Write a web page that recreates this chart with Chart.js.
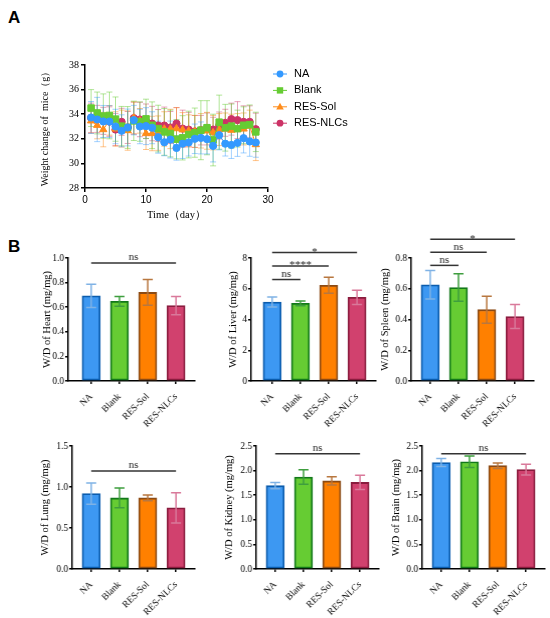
<!DOCTYPE html>
<html><head><meta charset="utf-8">
<script src="https://cdn.jsdelivr.net/npm/chart.js@4"></script>
<style>
html,body{margin:0;padding:0;background:#fff;}
body{width:550px;height:618px;position:relative;overflow:hidden;}
canvas{position:absolute;}
.lbl{position:absolute;font:bold 17px "Liberation Sans",Arial,sans-serif;color:#000;}
</style></head><body>
<div class="lbl" style="left:8px;top:8px">A</div>
<div class="lbl" style="left:8px;top:237px">B</div>
<script>
const serif = '"Liberation Serif","Times New Roman",serif';
const sans = '"Liberation Sans",Arial,sans-serif';
Chart.defaults.font.family = serif;
Chart.defaults.color = '#000';

// ---------- Panel A data ----------
const days = [1,2,3,4,5,6,7,8,9,10,11,12,13,14,15,16,17,18,19,20,21,22,23,24,25,26,27,28];
const lineGroups = ['NA','Blank','RES-Sol','RES-NLCs'];
const naMean = [33.73,33.57,33.41,33.40,33.00,32.65,32.92,33.52,33.00,33.03,32.90,32.13,31.72,31.94,31.26,31.60,31.70,32.00,32.07,31.97,31.42,32.30,31.60,31.50,31.67,32.05,31.78,31.70];
const naSD = [1.3,1.8,1.3,1.3,1.4,1.3,1.5,1.2,1.4,1.5,1.3,1.3,1.1,1.5,1.0,1.2,1.1,1.2,1.3,1.2,1.3,1.2,1.0,1.1,1.1,1.2,1.2,1.2];
const blankMean = [34.50,34.10,33.85,33.90,33.60,33.03,32.92,33.46,33.40,33.62,33.10,32.83,32.56,32.43,31.97,32.08,32.35,32.50,32.70,32.90,31.90,33.35,32.90,33.03,32.83,33.10,33.15,32.56];
const blankSD = [1.5,1.7,1.8,1.9,1.8,1.6,1.7,1.6,1.6,1.6,1.9,1.9,1.9,1.9,1.6,1.8,1.9,2.0,2.4,2.2,2.1,2.2,1.9,1.8,1.5,1.5,1.6,1.6];
const solMean = [33.46,33.10,32.75,33.50,32.80,32.83,32.67,33.70,33.46,32.43,32.43,32.46,32.80,32.80,32.83,32.73,32.65,32.60,32.65,32.65,32.50,32.75,32.80,32.70,32.75,32.80,33.03,31.53];
const solSD = [1.0,1.1,1.4,1.2,1.4,1.5,1.6,1.3,1.0,1.3,1.4,1.4,1.4,1.6,1.7,1.4,1.3,1.3,1.4,1.5,1.4,1.3,1.3,1.3,1.3,1.3,1.3,1.3];
const nlcMean = [33.70,33.62,33.46,33.40,32.75,33.38,32.92,33.68,33.57,33.43,33.24,33.08,33.08,32.92,33.24,32.83,32.75,32.60,32.70,32.80,32.75,33.08,33.30,33.60,33.52,33.38,33.38,32.78];
const nlcSD = [1.2,1.1,1.1,1.2,1.3,1.1,1.3,1.3,1.4,1.4,1.4,1.3,1.5,1.3,1.3,1.5,1.4,1.3,1.2,1.3,1.0,1.1,1.1,1.3,1.5,1.3,1.3,1.3];
const weightTicks = [28,30,32,34,36,38];
const dayTicks = [0,10,20,30];

// ---------- Panel B data ----------
const groups = ['NA','Blank','RES-Sol','RES-NLCs'];
const heartMean = [0.692,0.648,0.720,0.613];
const heartSD = [0.095,0.040,0.105,0.075];
const liverMean = [5.14,5.05,6.23,5.44];
const liverSD = [0.32,0.15,0.52,0.47];
const spleenMean = [0.626,0.608,0.464,0.419];
const spleenSD = [0.093,0.090,0.088,0.078];
const lungMean = [0.920,0.867,0.867,0.746];
const lungSD = [0.130,0.120,0.035,0.185];
const kidneyMean = [1.694,1.870,1.790,1.760];
const kidneySD = [0.065,0.145,0.085,0.145];
const brainMean = [2.165,2.180,2.100,2.020];
const brainSD = [0.080,0.115,0.055,0.110];
// significance: [group i, group j, bracket value, label]
const heartSig = [[0,3,0.96,'ns']];
const liverSig = [[0,1,6.6,'ns'],[0,2,7.48,'****'],[0,3,8.35,'*']];
const spleenSig = [[0,1,0.752,'ns'],[0,2,0.837,'ns'],[0,3,0.922,'*']];
const lungSig = [[0,3,1.196,'ns']];
const kidneySig = [[0,3,2.344,'ns']];
const brainSig = [[0,3,2.34,'ns']];

// ---------- styles ----------
const lineColors = ['#3399FF','#66CC33','#FF8C1A','#CC3366'];
const lineErrColors = ['rgba(51,153,255,0.45)','rgba(102,204,51,0.5)','rgba(255,140,26,0.5)','rgba(204,51,102,0.45)'];
const pointStyles = ['circle','rect','triangle','circle'];
const pointRadii = [3.6,4.6,4.2,3.6];
const barFill = ['#3D98F2','#66CC33','#FF8000','#D1416E'];
const barBorder = ['#0B5CAD','#12781A','#8B4A14','#8A1C3E'];
const barErr = ['#7FB2E5','#3E9E3E','#B8773F','#D9799A'];

function mkCanvas(left, top, w, h) {
  const c = document.createElement('canvas');
  c.width = w; c.height = h;
  c.style.left = left + 'px'; c.style.top = top + 'px';
  c.style.width = w + 'px'; c.style.height = h + 'px';
  document.body.appendChild(c);
  return c;
}

// ---------- Panel A ----------
(function(){
  const axisX = 85, topY = 65, botY = 188, plotW = 183;
  const d = 40, W = d + 10;
  const cLeft = axisX - W, cTop = 40, cW = 330, cH = 190;
  const padTop = topY - cTop, plotH = botY - topY, xH = cH - padTop - plotH;
  const cv = mkCanvas(cLeft, cTop, cW, cH);
  const means = [naMean, blankMean, solMean, nlcMean];
  const sds = [naSD, blankSD, solSD, nlcSD];
  const datasets = lineGroups.map((g,k)=>({
    label: g,
    data: days.map((dd,i)=>({x:dd, y:means[k][i]})),
    borderColor: lineColors[k], backgroundColor: lineColors[k],
    pointBorderColor: lineColors[k], pointBackgroundColor: lineColors[k],
    borderWidth: 1, pointStyle: pointStyles[k], pointRadius: pointRadii[k], pointBorderWidth: 1,
    tension: 0, fill: false
  }));
  const errPlugin = {id:'lerr', beforeDatasetsDraw(c){
    const ctx=c.ctx, xs=c.scales.x, ys=c.scales.y;
    ctx.save(); ctx.lineWidth=1;
    for (let k=3;k>=0;k--){
      ctx.strokeStyle = lineErrColors[k];
      days.forEach((dd,i)=>{
        const x=xs.getPixelForValue(dd), y1=ys.getPixelForValue(means[k][i]+sds[k][i]), y2=ys.getPixelForValue(means[k][i]-sds[k][i]);
        ctx.beginPath(); ctx.moveTo(x,y1); ctx.lineTo(x,y2);
        ctx.moveTo(x-3,y1); ctx.lineTo(x+3,y1); ctx.moveTo(x-3,y2); ctx.lineTo(x+3,y2); ctx.stroke();
      });
    }
    ctx.restore();
  }};
  const legendPlugin = {id:'lleg', afterDraw(c){
    const ctx=c.ctx, a=c.chartArea;
    ctx.save();
    lineGroups.forEach((g,k)=>{
      const y = a.top + 9 + k*16.4, x0 = a.right + 5, xm = a.right + 12, x1 = a.right + 19;
      ctx.strokeStyle=lineColors[k]; ctx.fillStyle=lineColors[k]; ctx.lineWidth=1;
      ctx.beginPath(); ctx.moveTo(x0,y); ctx.lineTo(x1,y); ctx.stroke();
      ctx.beginPath();
      if (pointStyles[k]==='circle'){ ctx.arc(xm,y,3.4,0,Math.PI*2); }
      else if (pointStyles[k]==='rect'){ ctx.rect(xm-3.2,y-3.2,6.4,6.4); }
      else { ctx.moveTo(xm,y-4); ctx.lineTo(xm+3.8,y+2.6); ctx.lineTo(xm-3.8,y+2.6); ctx.closePath(); }
      ctx.fill();
      ctx.fillStyle='#000'; ctx.font='11px '+sans; ctx.textBaseline='middle'; ctx.textAlign='left';
      ctx.fillText(g, a.right + 26, y);
    });
    ctx.restore();
  }};
  new Chart(cv, {
    type:'line',
    data:{datasets},
    options:{
      responsive:false, animation:false, events:[],
      layout:{padding:{top:padTop,left:0,right:cW-W-plotW,bottom:0}},
      plugins:{legend:{display:false},tooltip:{enabled:false}},
      scales:{
        x:{type:'linear',min:0,max:30,
          afterBuildTicks:s=>{s.ticks=dayTicks.map(v=>({value:v}));},
          afterFit:s=>{s.height=xH;},
          ticks:{font:{family:sans,size:10},color:'#000',padding:2,maxRotation:0,autoSkip:false},
          grid:{drawOnChartArea:false,tickLength:4,color:'#000',lineWidth:1.5},
          border:{color:'#000',width:1.5},
          title:{display:true,text:'Time（day）',font:{family:serif,size:10.5},color:'#000',padding:{top:0,bottom:8}}
        },
        y:{min:28,max:38,
          afterBuildTicks:s=>{s.ticks=weightTicks.map(v=>({value:v}));},
          afterFit:s=>{s.width=W;},
          ticks:{font:{family:serif,size:10},color:'#000',padding:2},
          grid:{drawOnChartArea:false,tickLength:4,color:'#000',lineWidth:1.5},
          border:{color:'#000',width:1.5},
          title:{display:true,text:'Weight change of  mice（g）',font:{family:serif,size:10},color:'#000',padding:{top:4,bottom:4}}
        }
      }
    },
    plugins:[errPlugin, legendPlugin]
  });
})();

// ---------- Panel B ----------
const organs = [
  {title:'W/D of Heart (mg/mg)', mean:heartMean, sd:heartSD, sig:heartSig, yMax:1.0, step:0.2, dec:1, axisX:68, topY:258, zeroY:381, d:21, off:23},
  {title:'W/D of Liver (mg/mg)', mean:liverMean, sd:liverSD, sig:liverSig, yMax:8, step:2, dec:0, axisX:251, topY:258, zeroY:381, d:18, off:21},
  {title:'W/D of Spleen (mg/mg)', mean:spleenMean, sd:spleenSD, sig:spleenSig, yMax:0.8, step:0.2, dec:1, axisX:411, topY:258, zeroY:381, d:26, off:19},
  {title:'W/D of Lung (mg/mg)', mean:lungMean, sd:lungSD, sig:lungSig, yMax:1.5, step:0.5, dec:1, axisX:72, topY:446, zeroY:569, d:27, off:19},
  {title:'W/D of Kidney (mg/mg)', mean:kidneyMean, sd:kidneySD, sig:kidneySig, yMax:2.5, step:0.5, dec:1, axisX:256, topY:446, zeroY:569, d:27, off:19},
  {title:'W/D of Brain (mg/mg)', mean:brainMean, sd:brainSD, sig:brainSig, yMax:2.5, step:0.5, dec:1, axisX:422, topY:446, zeroY:569, d:26, off:19}
];
const spacing = 28.3;

organs.forEach(o=>{
  const W = o.d + 10, padTop = 30, plotW = o.off + 3*spacing + 19, padRight = 6, plotH = o.zeroY - o.topY, xH = 52;
  const cW = W + plotW + padRight, cH = padTop + plotH + xH;
  const cv = mkCanvas(o.axisX - W, o.topY - padTop, cW, cH);
  const xmin = 1 - o.off/spacing, xmax = xmin + plotW/spacing;
  const yTicks = [];
  for (let v=0; v<=o.yMax+1e-9; v+=o.step) yTicks.push(+v.toFixed(3));
  const errPlugin = {id:'berr', afterDatasetsDraw(c){
    const ctx=c.ctx, xs=c.scales.x, ys=c.scales.y;
    ctx.save(); ctx.lineWidth=1.5;
    o.mean.forEach((m,i)=>{
      const x=xs.getPixelForValue(i+1), y1=ys.getPixelForValue(m+o.sd[i]), y2=ys.getPixelForValue(m-o.sd[i]);
      ctx.strokeStyle=barErr[i];
      ctx.beginPath(); ctx.moveTo(x,y1); ctx.lineTo(x,y2);
      ctx.moveTo(x-5,y1); ctx.lineTo(x+5,y1); ctx.moveTo(x-5,y2); ctx.lineTo(x+5,y2); ctx.stroke();
    });
    ctx.restore();
  }};
  const sigPlugin = {id:'bsig', afterDraw(c){
    const ctx=c.ctx, xs=c.scales.x, ys=c.scales.y;
    ctx.save(); ctx.strokeStyle='#333'; ctx.fillStyle='#222'; ctx.lineWidth=1.5; ctx.textAlign='center';
    o.sig.forEach(s=>{
      const x1=xs.getPixelForValue(s[0]+1), x2=xs.getPixelForValue(s[1]+1), y=ys.getPixelForValue(s[2]);
      ctx.beginPath(); ctx.moveTo(x1,y); ctx.lineTo(x2,y); ctx.stroke();
      ctx.font='11px '+serif; ctx.textBaseline='alphabetic';
      if (s[3]==='ns') ctx.fillText(s[3], (x1+x2)/2, y-2.5);
      else ctx.fillText(s[3], (x1+x2)/2, y+2.5);
    });
    ctx.restore();
  }};
  new Chart(cv, {
    type:'bar',
    data:{datasets:[{
      data:o.mean.map((v,i)=>({x:i+1,y:v})),
      backgroundColor:barFill, borderColor:barBorder, borderWidth:1.8, borderSkipped:false, barThickness:18
    }]},
    options:{
      responsive:false, animation:false, events:[],
      layout:{padding:{top:padTop,left:0,right:padRight,bottom:0}},
      plugins:{legend:{display:false},tooltip:{enabled:false}},
      scales:{
        x:{type:'linear',min:xmin,max:xmax,offset:false,
          afterBuildTicks:s=>{s.ticks=groups.map((g,i)=>({value:i+1}));},
          afterFit:s=>{s.height=xH;},
          ticks:{autoSkip:false,minRotation:45,maxRotation:45,padding:7,font:{family:serif,size:9.5},color:'#000',
            callback:(v)=>groups[Math.round(v)-1]},
          grid:{offset:false,drawOnChartArea:false,tickLength:3,color:'#000',lineWidth:1.5},
          border:{color:'#000',width:1.5}
        },
        y:{min:0,max:o.yMax,
          afterBuildTicks:s=>{s.ticks=yTicks.map(v=>({value:v}));},
          afterFit:s=>{s.width=W;},
          ticks:{font:{family:serif,size:9.5},color:'#000',padding:1,callback:v=>Number(v).toFixed(o.dec)},
          grid:{drawOnChartArea:false,tickLength:3,color:'#000',lineWidth:1.5},
          border:{color:'#000',width:1.5},
          title:{display:true,text:o.title,font:{family:serif,size:10.5},color:'#000',padding:{top:4,bottom:4}}
        }
      }
    },
    plugins:[errPlugin, sigPlugin]
  });
});
</script>
</body></html>
